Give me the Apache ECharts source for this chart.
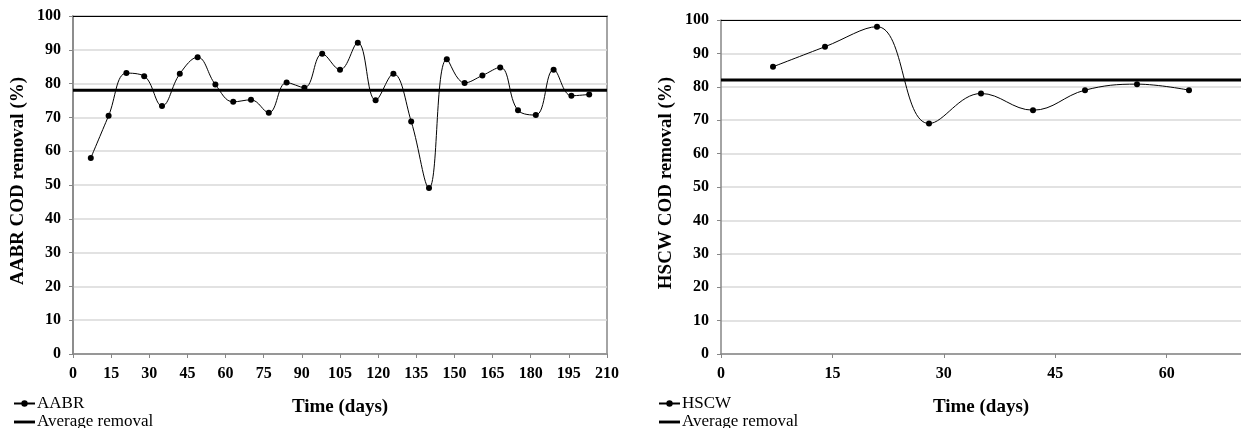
<!DOCTYPE html>
<html>
<head>
<meta charset="utf-8">
<script src="https://cdn.jsdelivr.net/npm/echarts@6/dist/echarts.min.js"></script>
<style>
html,body{margin:0;padding:0;background:#fff;}
#c{width:1241px;height:428px;}
</style>
</head>
<body>
<div id="c"></div>
<script>
// ---- data ----
const aabrDays = [7,14,21,28,35,42,49,56,63,70,77,84,91,98,105,112,119,126,133,140,147,154,161,168,175,182,189,196,203];
const aabrRemoval = [58,70.5,83.1,82.2,73.4,82.9,87.8,79.7,74.6,75.2,71.4,80.3,78.8,88.8,84.1,92.1,75.1,82.9,68.8,49.1,87.2,80.2,82.4,84.8,72.1,70.7,84.1,76.4,76.8];
const aabrAverage = 78;
const hscwDays = [7,14,21,28,35,42,49,56,63];
const hscwRemoval = [86,92,98,69,78,73,79,80.8,79];
const hscwAverage = 82;
const leftXTicks = {min:0, max:210, interval:15};
const rightXTicks = {min:0, max:70, interval:15};
const yTicks = {min:0, max:100, interval:10};
const leftYTitle = 'AABR COD removal (%)';
const rightYTitle = 'HSCW COD removal (%)';
const xTitle = 'Time (days)';
const avgName = 'Average removal';

const FONT = 'Liberation Serif';
const chart = echarts.init(document.getElementById('c'), null, {renderer:'canvas'});

function bottomX(gridIndex, t, showMax){
  return {
    type:'value', gridIndex, position:'bottom', min:t.min, max:t.max, interval:t.interval,
    name:xTitle, nameLocation:'middle', nameGap:44,
    nameTextStyle:{fontFamily:FONT, fontWeight:'bold', fontSize:19, color:'#000'},
    axisLine:{show:true, onZero:false, lineStyle:{color:'#868686', width:1.5}},
    axisTick:{show:true, inside:false, length:4, lineStyle:{color:'#868686'}},
    axisLabel:{fontFamily:FONT, fontWeight:'bold', fontSize:16, color:'#000', margin:12, showMaxLabel:showMax},
    splitLine:{show:false}
  };
}
function topX(gridIndex, t){
  return {
    type:'value', gridIndex, position:'top', min:t.min, max:t.max, interval:t.interval,
    axisLine:{show:true, onZero:false, lineStyle:{color:'#000', width:1.2}},
    axisTick:{show:false}, axisLabel:{show:false}, splitLine:{show:false}
  };
}
function leftY(gridIndex, title){
  return {
    type:'value', gridIndex, min:yTicks.min, max:yTicks.max, interval:yTicks.interval,
    name:title, nameLocation:'middle', nameGap:45, nameRotate:90,
    nameTextStyle:{fontFamily:FONT, fontWeight:'bold', fontSize:19, color:'#000', padding:[0,0,0,8]},
    axisLine:{show:true, onZero:false, lineStyle:{color:'#868686', width:1.5}},
    axisTick:{show:true, length:4, lineStyle:{color:'#868686'}},
    axisLabel:{fontFamily:FONT, fontWeight:'bold', fontSize:16, color:'#000', margin:12},
    splitLine:{show:true, lineStyle:{color:'#d9d9d9', width:1.5}}
  };
}
function dataSeries(name, xi, yi, days, vals){
  return {
    type:'line', name, xAxisIndex:xi, yAxisIndex:yi,
    data: days.map((d,i)=>[d, vals[i]]),
    smooth:0.4, symbol:'circle', symbolSize:6,
    lineStyle:{color:'#000', width:1}, itemStyle:{color:'#000'},
    emphasis:{disabled:true}, z:3
  };
}
function avgSeries(xi, yi, avg, t){
  return {
    type:'line', name:avgName, xAxisIndex:xi, yAxisIndex:yi,
    data:[[t.min, avg],[t.max, avg]],
    symbol:'none', showSymbol:false,
    lineStyle:{color:'#000', width:3}, itemStyle:{color:'#000'},
    emphasis:{disabled:true}, z:4
  };
}
function legend(left, first){
  return {
    data:[first, {name:avgName, icon:'path://M0 0H22V3H0Z'}],
    orient:'vertical', left, top:395, height:80, padding:0,
    itemWidth:21, itemHeight:8, itemGap:1.5, selectedMode:false,
    textStyle:{fontFamily:FONT, fontSize:17, color:'#000', padding:[0,0,0,-3]}
  };
}

chart.setOption({
  animation:false,
  backgroundColor:'#fff',
  grid:[
    {left:73, top:16, width:534, height:338, show:true, borderColor:'#868686', borderWidth:1.5, backgroundColor:'transparent'},
    {left:721, top:20, width:530, height:334, show:false}
  ],
  xAxis:[bottomX(0, leftXTicks, true), bottomX(1, rightXTicks, false), topX(0, leftXTicks), topX(1, rightXTicks)],
  yAxis:[leftY(0, leftYTitle), leftY(1, rightYTitle)],
  legend:[legend(13,'AABR'), legend(658,'HSCW')],
  series:[
    dataSeries('AABR', 0, 0, aabrDays, aabrRemoval),
    avgSeries(0, 0, aabrAverage, leftXTicks),
    dataSeries('HSCW', 1, 1, hscwDays, hscwRemoval),
    avgSeries(1, 1, hscwAverage, rightXTicks)
  ]
});
</script>
</body>
</html>
